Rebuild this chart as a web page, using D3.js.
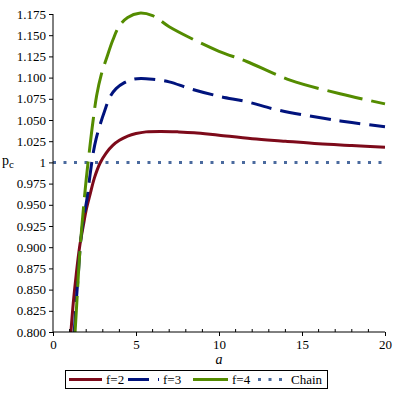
<!DOCTYPE html>
<html>
<head>
<meta charset="utf-8">
<script src="https://cdn.jsdelivr.net/npm/d3@7"></script>
<style>
  body { margin: 0; background: #fff; }
  svg { display: block; }
  text { font-family: "Liberation Serif", "Times New Roman", serif; fill: #000; }
</style>
</head>
<body>
<div id="chart"></div>
<script>
// Data
var aF2 = [1.08, 1.22, 1.4, 1.6, 1.83, 2.0, 2.23, 2.5, 2.83, 3.2, 3.6, 4.0, 4.5, 5.0, 5.6, 6.5, 7.5, 8.5, 10, 12, 14, 16, 18, 20];
var pF2 = [0.800, 0.834, 0.868, 0.900, 0.926, 0.944, 0.962, 0.982, 0.999, 1.011, 1.020, 1.026, 1.031, 1.034, 1.036, 1.0365, 1.036, 1.035, 1.032, 1.028, 1.025, 1.022, 1.020, 1.018];

var aF3 = [1.28, 1.4, 1.52, 1.67, 1.83, 2.03, 2.23, 2.43, 2.6, 2.83, 3.1, 3.43, 3.8, 4.3, 4.8, 5.3, 6, 7, 8.25, 10, 11.67, 13.5, 16.3, 18, 20];
var pF3 = [0.800, 0.836, 0.867, 0.908, 0.933, 0.955, 0.985, 1.012, 1.028, 1.044, 1.060, 1.077, 1.087, 1.094, 1.098, 1.099, 1.098, 1.095, 1.087, 1.078, 1.0716, 1.062, 1.052, 1.047, 1.042];

var aF4 = [1.33, 1.45, 1.55, 1.67, 1.83, 2.0, 2.19, 2.4, 2.63, 2.9, 3.23, 3.6, 4.0, 4.5, 5.2, 6, 7.0, 8.25, 10, 11.67, 14.28, 17.29, 20];
var pF4 = [0.800, 0.840, 0.875, 0.908, 0.945, 0.980, 1.013, 1.047, 1.079, 1.103, 1.123, 1.144, 1.161, 1.171, 1.176, 1.173, 1.160, 1.147, 1.131, 1.119, 1.097, 1.081, 1.069];

var chainA = [0, 20];
var chainP = [1, 1];

var xTicks = [0, 5, 10, 15, 20];
var yTicks = [0.800, 0.825, 0.850, 0.875, 0.900, 0.925, 0.950, 0.975, 1, 1.025, 1.050, 1.075, 1.100, 1.125, 1.150, 1.175];

var seriesNames = ["f=2", "f=3", "f=4", "Chain"];

// Layout (plot box edges)
var W = 398, H = 398;
var pLeft = 53, pRight = 385, pTop = 14, pBottom = 332;

var svg = d3.select('#chart').append('svg')
    .attr('width', W)
    .attr('height', H);

var x = d3.scaleLinear().domain([0, 20]).range([pLeft, pRight]);
var y = d3.scaleLinear().domain([0.8, 1.175]).range([pBottom, pTop]);

svg.append('clipPath').attr('id', 'clip')
  .append('rect')
    .attr('x', pLeft).attr('y', 0)
    .attr('width', pRight - pLeft + 2).attr('height', pBottom);

// Series styles
var series = [
  {name: seriesNames[0], a: aF2, p: pF2, color: '#7d0a1a', dash: null},
  {name: seriesNames[1], a: aF3, p: pF3, color: '#00137d', dash: '21,9'},
  {name: seriesNames[2], a: aF4, p: pF4, color: '#548c00', dash: '36,9'},
  {name: seriesNames[3], a: chainA, p: chainP, color: '#4a6a9e', dash: '3,7.5'}
];

var line = d3.line()
    .x(function(d) { return x(d[0]); })
    .y(function(d) { return y(d[1]); })
    .curve(d3.curveCatmullRom.alpha(0.5));

var plot = svg.append('g').attr('clip-path', 'url(#clip)');

// Draw chain first so curves sit above it
[3, 0, 1, 2].forEach(function(i) {
  var s = series[i];
  var pts = d3.zip(s.a, s.p);
  plot.append('path')
    .datum(pts)
    .attr('d', line)
    .attr('fill', 'none')
    .attr('stroke', s.color)
    .attr('stroke-width', 3)
    .attr('stroke-dasharray', s.dash);
});

// Axes
var yAxis = d3.axisLeft(y)
    .tickValues(yTicks)
    .tickSize(4)
    .tickPadding(3)
    .tickFormat(function(d) { return d === 1 ? '1' : d3.format('.3f')(d); });

var gy = svg.append('g')
    .attr('transform', 'translate(' + pLeft + ',0)')
    .call(yAxis);
gy.select('.domain').attr('d', 'M0,' + pTop + 'V' + pBottom);
gy.selectAll('text').style('font-size', '13px');

var xAxis = d3.axisBottom(x)
    .tickValues(xTicks)
    .tickSize(4)
    .tickPadding(4)
    .tickFormat(d3.format('d'));

var gx = svg.append('g')
    .attr('transform', 'translate(0,' + pBottom + ')')
    .call(xAxis);
gx.select('.domain').attr('d', 'M' + pLeft + ',0H' + pRight);
gx.selectAll('text').style('font-size', '13px');

// Minor ticks pointing up into the plot
gx.selectAll('.minor')
  .data(d3.range(1, 20).filter(function(v) { return v % 5 !== 0; }))
  .enter().append('line')
    .attr('class', 'minor')
    .attr('x1', function(d) { return x(d); })
    .attr('x2', function(d) { return x(d); })
    .attr('y1', 0).attr('y2', -3)
    .attr('stroke', '#000');

// Axis titles
svg.append('text')
    .attr('x', x(10)).attr('y', 364)
    .attr('text-anchor', 'middle')
    .style('font-size', '14px')
    .style('font-style', 'italic')
    .text('a');

var pc = svg.append('text')
    .attr('x', 2).attr('y', y(1) + 3)
    .style('font-size', '14px');
pc.append('tspan').text('p');
pc.append('tspan').attr('dy', 3).style('font-size', '11px').text('c');

// Legend
var legend = svg.append('g');
legend.append('rect')
    .attr('x', 65.5).attr('y', 370.5)
    .attr('width', 262).attr('height', 18)
    .attr('fill', '#fff')
    .attr('stroke', '#000')
    .attr('stroke-width', 1);

var legendX = [69, 128, 193, 258];
var legendLen = [33, 31, 35, 29];
var legY = 379.5;
series.forEach(function(s, i) {
  legend.append('line')
    .attr('x1', legendX[i]).attr('x2', legendX[i] + legendLen[i])
    .attr('y1', legY).attr('y2', legY)
    .attr('stroke', s.color)
    .attr('stroke-width', 3)
    .attr('stroke-dasharray', s.dash);
  legend.append('text')
    .attr('x', legendX[i] + legendLen[i] + 4)
    .attr('y', legY + 4.5)
    .style('font-size', '13px')
    .text(s.name);
});
</script>
</body>
</html>
